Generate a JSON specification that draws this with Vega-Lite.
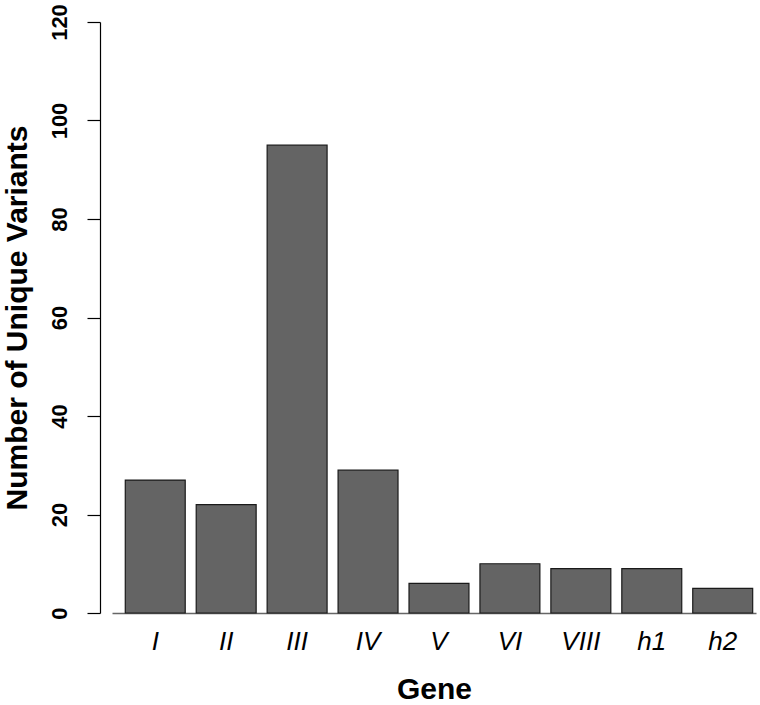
{
  "$schema": "https://vega.github.io/schema/vega-lite/v6.json",
  "width": 644,
  "height": 591,
  "autosize": {"type": "none"},
  "padding": {"left": 112, "top": 22, "right": 4, "bottom": 92},
  "background": "white",
  "config": {"view": {"stroke": null}, "font": "Liberation Sans"},
  "data": {
    "values": [
      {"gene": "I", "count": 27},
      {"gene": "II", "count": 22},
      {"gene": "III", "count": 95},
      {"gene": "IV", "count": 29},
      {"gene": "V", "count": 6},
      {"gene": "VI", "count": 10},
      {"gene": "VIII", "count": 9},
      {"gene": "h1", "count": 9},
      {"gene": "h2", "count": 5}
    ]
  },
  "mark": {"type": "bar", "fill": "#646464", "stroke": "#1a1a1a", "strokeWidth": 1.2},
  "encoding": {
    "x": {
      "field": "gene",
      "type": "nominal",
      "sort": null,
      "scale": {"paddingInner": 0.155, "paddingOuter": 0.117, "align": 0.8},
      "axis": {
        "title": "Gene",
        "titleFont": "Liberation Sans",
        "titleFontSize": 30,
        "titleFontWeight": "bold",
        "titleColor": "black",
        "titlePadding": 20,
        "labelAngle": 0,
        "labelFont": "Liberation Sans",
        "labelFontSize": 26,
        "labelFontStyle": "italic",
        "labelColor": "black",
        "labelBaseline": "alphabetic",
        "labelPadding": 36,
        "ticks": false,
        "tickSize": 0,
        "domain": true,
        "domainColor": "#666666",
        "domainWidth": 1.5,
        "grid": false
      }
    },
    "y": {
      "field": "count",
      "type": "quantitative",
      "scale": {"domain": [0, 120], "nice": false, "zero": true},
      "axis": {
        "title": "Number of Unique Variants",
        "titleFont": "Liberation Sans",
        "titleFontSize": 30,
        "titleFontWeight": "bold",
        "titleColor": "black",
        "titlePadding": 16,
        "values": [0, 20, 40, 60, 80, 100, 120],
        "labelAngle": -90,
        "labelAlign": "center",
        "labelBaseline": "alphabetic",
        "labelFont": "Liberation Sans",
        "labelFontSize": 22,
        "labelFontWeight": "bold",
        "labelColor": "black",
        "labelPadding": 21,
        "tickSize": 13,
        "tickColor": "black",
        "tickWidth": 1.2,
        "domainColor": "black",
        "domainWidth": 1.2,
        "offset": 12,
        "grid": false
      }
    }
  }
}
